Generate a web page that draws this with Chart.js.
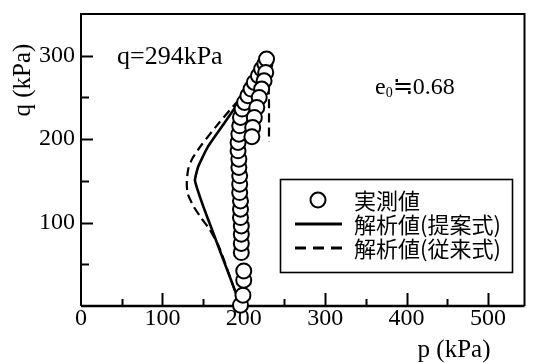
<!DOCTYPE html>
<html>
<head>
<meta charset="utf-8">
<script src="https://cdn.jsdelivr.net/npm/chart.js@4/dist/chart.umd.min.js"></script>
<style>
html,body{margin:0;padding:0;background:#fff;}
#wrap{position:relative;width:534px;height:363px;}
</style>
</head>
<body>
<div id="wrap"><canvas id="c" width="534" height="363"></canvas></div>
<script>
// ---- data ----
const measuredP = [196,199,200,200,197,197,197,197,196,196,196,195,195,195,194,194,193,193,194,195,196,198,201,205,209,213,218,222,226,228,227,225,222,219,216,213,211,210];
const measuredQ = [1,13,31,42,64,75,86,96,106,116,126,136,146,156,166,176,186,196,206,216,226,236,244,252,260,268,276,284,290,296,280,270,260,250,238,226,214,203];

const proposedP = [195,184,172,160,150,143,140,144,156,176,196,216,228,224,219,214,210];
const proposedQ = [3,32,63,94,120,140,151,167,191,219,247,274,295,270,245,222,200];

const conventionalP = [195,183,170,158,148,138,131,130,132,137,148,170,192,215,228,230,231,231];
const conventionalQ = [3,35,70,92,105,120,135,150,165,177,193,220,245,270,295,275,248,197];

const seriesNames = ["実測値","解析値(提案式)","解析値(従来式)"];
const xLabelValues = [0,100,200,300,400,500];
const yLabelValues = [100,200,300];
const xTickValues = [0,50,100,150,200,250,300,350,400,450,500];
const yTickValues = [50,100,150,200,250,300];
const xTitle = "p (kPa)";
const yTitle = "q (kPa)";
const note1 = "q=294kPa";
const note2Main = "e", note2Sub = "0", note2Rest = "≒0.68";

const toPts = (px, qy) => px.map((p, i) => ({x: p, y: qy[i]}));

const serif = "'Liberation Serif','Times New Roman',serif";
const cjk = "'Noto Sans CJK JP','Noto Sans CJK SC',sans-serif";

const decor = {
  id: 'decor',
  beforeDatasetsDraw(chart) {
    const {ctx, chartArea: a, scales: {x, y}} = chart;
    ctx.save();
    ctx.strokeStyle = '#000';
    ctx.lineWidth = 2;
    ctx.beginPath();
    ctx.moveTo(a.left, a.bottom); ctx.lineTo(a.left, a.top); ctx.lineTo(a.right, a.top); ctx.lineTo(a.right, a.bottom);
    ctx.stroke();
    ctx.lineWidth = 2.6;
    ctx.beginPath(); ctx.moveTo(a.left, a.bottom); ctx.lineTo(a.right, a.bottom); ctx.stroke();
    ctx.lineWidth = 2;
    xTickValues.forEach(v => {
      if (v === 0) return;
      const px = Math.round(x.getPixelForValue(v)) + 0.5;
      const len = (v % 100 === 0) ? 13 : 7;
      ctx.beginPath(); ctx.moveTo(px, a.bottom); ctx.lineTo(px, a.bottom - len); ctx.stroke();
    });
    yTickValues.forEach(v => {
      const py = Math.round(y.getPixelForValue(v)) + 0.5;
      const len = (v % 100 === 0) ? 12 : 8;
      ctx.beginPath(); ctx.moveTo(a.left, py); ctx.lineTo(a.left + len, py); ctx.stroke();
    });
    ctx.restore();
  },
  afterDatasetsDraw(chart) {
    const {ctx} = chart;
    const ds = chart.data.datasets;
    ctx.save();
    ctx.fillStyle = '#000';
    ctx.font = "26px " + serif;
    ctx.textBaseline = 'middle';
    ctx.textAlign = 'left';
    ctx.fillText(note1, 117, 57);
    ctx.font = "24px " + serif;
    let xx = 375;
    ctx.fillText(note2Main, xx, 88); xx += ctx.measureText(note2Main).width;
    ctx.font = "14px " + serif;
    ctx.fillText(note2Sub, xx, 93); xx += ctx.measureText(note2Sub).width;
    ctx.font = "24px " + serif;
    ctx.fillText(note2Rest, xx, 88);
    ctx.font = "25px " + serif;
    ctx.textAlign = 'center';
    ctx.fillText(xTitle, 454, 350);
    ctx.save();
    ctx.translate(23, 80);
    ctx.rotate(-Math.PI / 2);
    ctx.fillText(yTitle, 0, 0);
    ctx.restore();
    // legend
    ctx.fillStyle = '#fff';
    ctx.fillRect(280, 179, 232, 93);
    ctx.strokeStyle = '#000';
    ctx.lineWidth = 1.6;
    ctx.strokeRect(280.5, 179.5, 232, 93);
    const rows = [200, 224, 248];
    ctx.beginPath();
    ctx.arc(318, rows[0], ds[0].pointRadius, 0, Math.PI * 2);
    ctx.fillStyle = ds[0].pointBackgroundColor; ctx.fill();
    ctx.lineWidth = ds[0].borderWidth; ctx.strokeStyle = ds[0].borderColor; ctx.stroke();
    ctx.lineWidth = 3; ctx.setLineDash([]);
    ctx.beginPath(); ctx.moveTo(295, rows[1]); ctx.lineTo(342, rows[1]); ctx.stroke();
    ctx.setLineDash([11, 7]);
    ctx.beginPath(); ctx.moveTo(295, rows[2]); ctx.lineTo(342, rows[2]); ctx.stroke();
    ctx.setLineDash([]);
    ctx.fillStyle = '#000';
    ctx.font = "22px " + cjk;
    ctx.textAlign = 'left';
    ctx.textBaseline = 'middle';
    seriesNames.forEach((n, i) => ctx.fillText(n, 354, rows[i] + 1));
    ctx.restore();
  }
};

new Chart(document.getElementById('c'), {
  type: 'scatter',
  data: {
    datasets: [
      {label: seriesNames[0], data: toPts(measuredP, measuredQ), showLine: false,
       pointRadius: 7.5, pointHoverRadius: 7.5, pointBackgroundColor: '#fff', pointBorderColor: '#000', borderColor: '#000', borderWidth: 2, clip: false, order: 0},
      {label: seriesNames[1], data: toPts(proposedP, proposedQ), showLine: true, pointRadius: 0,
       borderColor: '#000', borderWidth: 2.6, tension: 0.15, clip: false, order: 1},
      {label: seriesNames[2], data: toPts(conventionalP, conventionalQ), showLine: true, pointRadius: 0,
       borderColor: '#000', borderWidth: 2.2, borderDash: [9, 5], tension: 0.2, clip: false, order: 2}
    ]
  },
  options: {
    responsive: false,
    animation: false,
    events: [],
    layout: {padding: {left: 0, right: 1, top: 14, bottom: 0}},
    plugins: {legend: {display: false}, tooltip: {enabled: false}},
    scales: {
      x: {
        type: 'linear', min: 0, max: 545,
        afterBuildTicks: s => { s.ticks = xLabelValues.map(v => ({value: v})); },
        afterFit: s => { s.height = 57; s.paddingLeft = 0; s.paddingRight = 0; },
        grid: {display: false, drawTicks: false},
        border: {display: false},
        ticks: {color: '#000', font: {family: serif, size: 24}, padding: -2, maxRotation: 0, autoSkip: false}
      },
      y: {
        type: 'linear', min: 0, max: 350,
        afterBuildTicks: s => { s.ticks = yLabelValues.map(v => ({value: v})); },
        afterFit: s => { s.width = 81; s.paddingTop = 0; s.paddingBottom = 0; },
        grid: {display: false, drawTicks: false},
        border: {display: false},
        ticks: {color: '#000', font: {family: serif, size: 24}, padding: 6, autoSkip: false}
      }
    }
  },
  plugins: [decor]
});
</script>
</body>
</html>
